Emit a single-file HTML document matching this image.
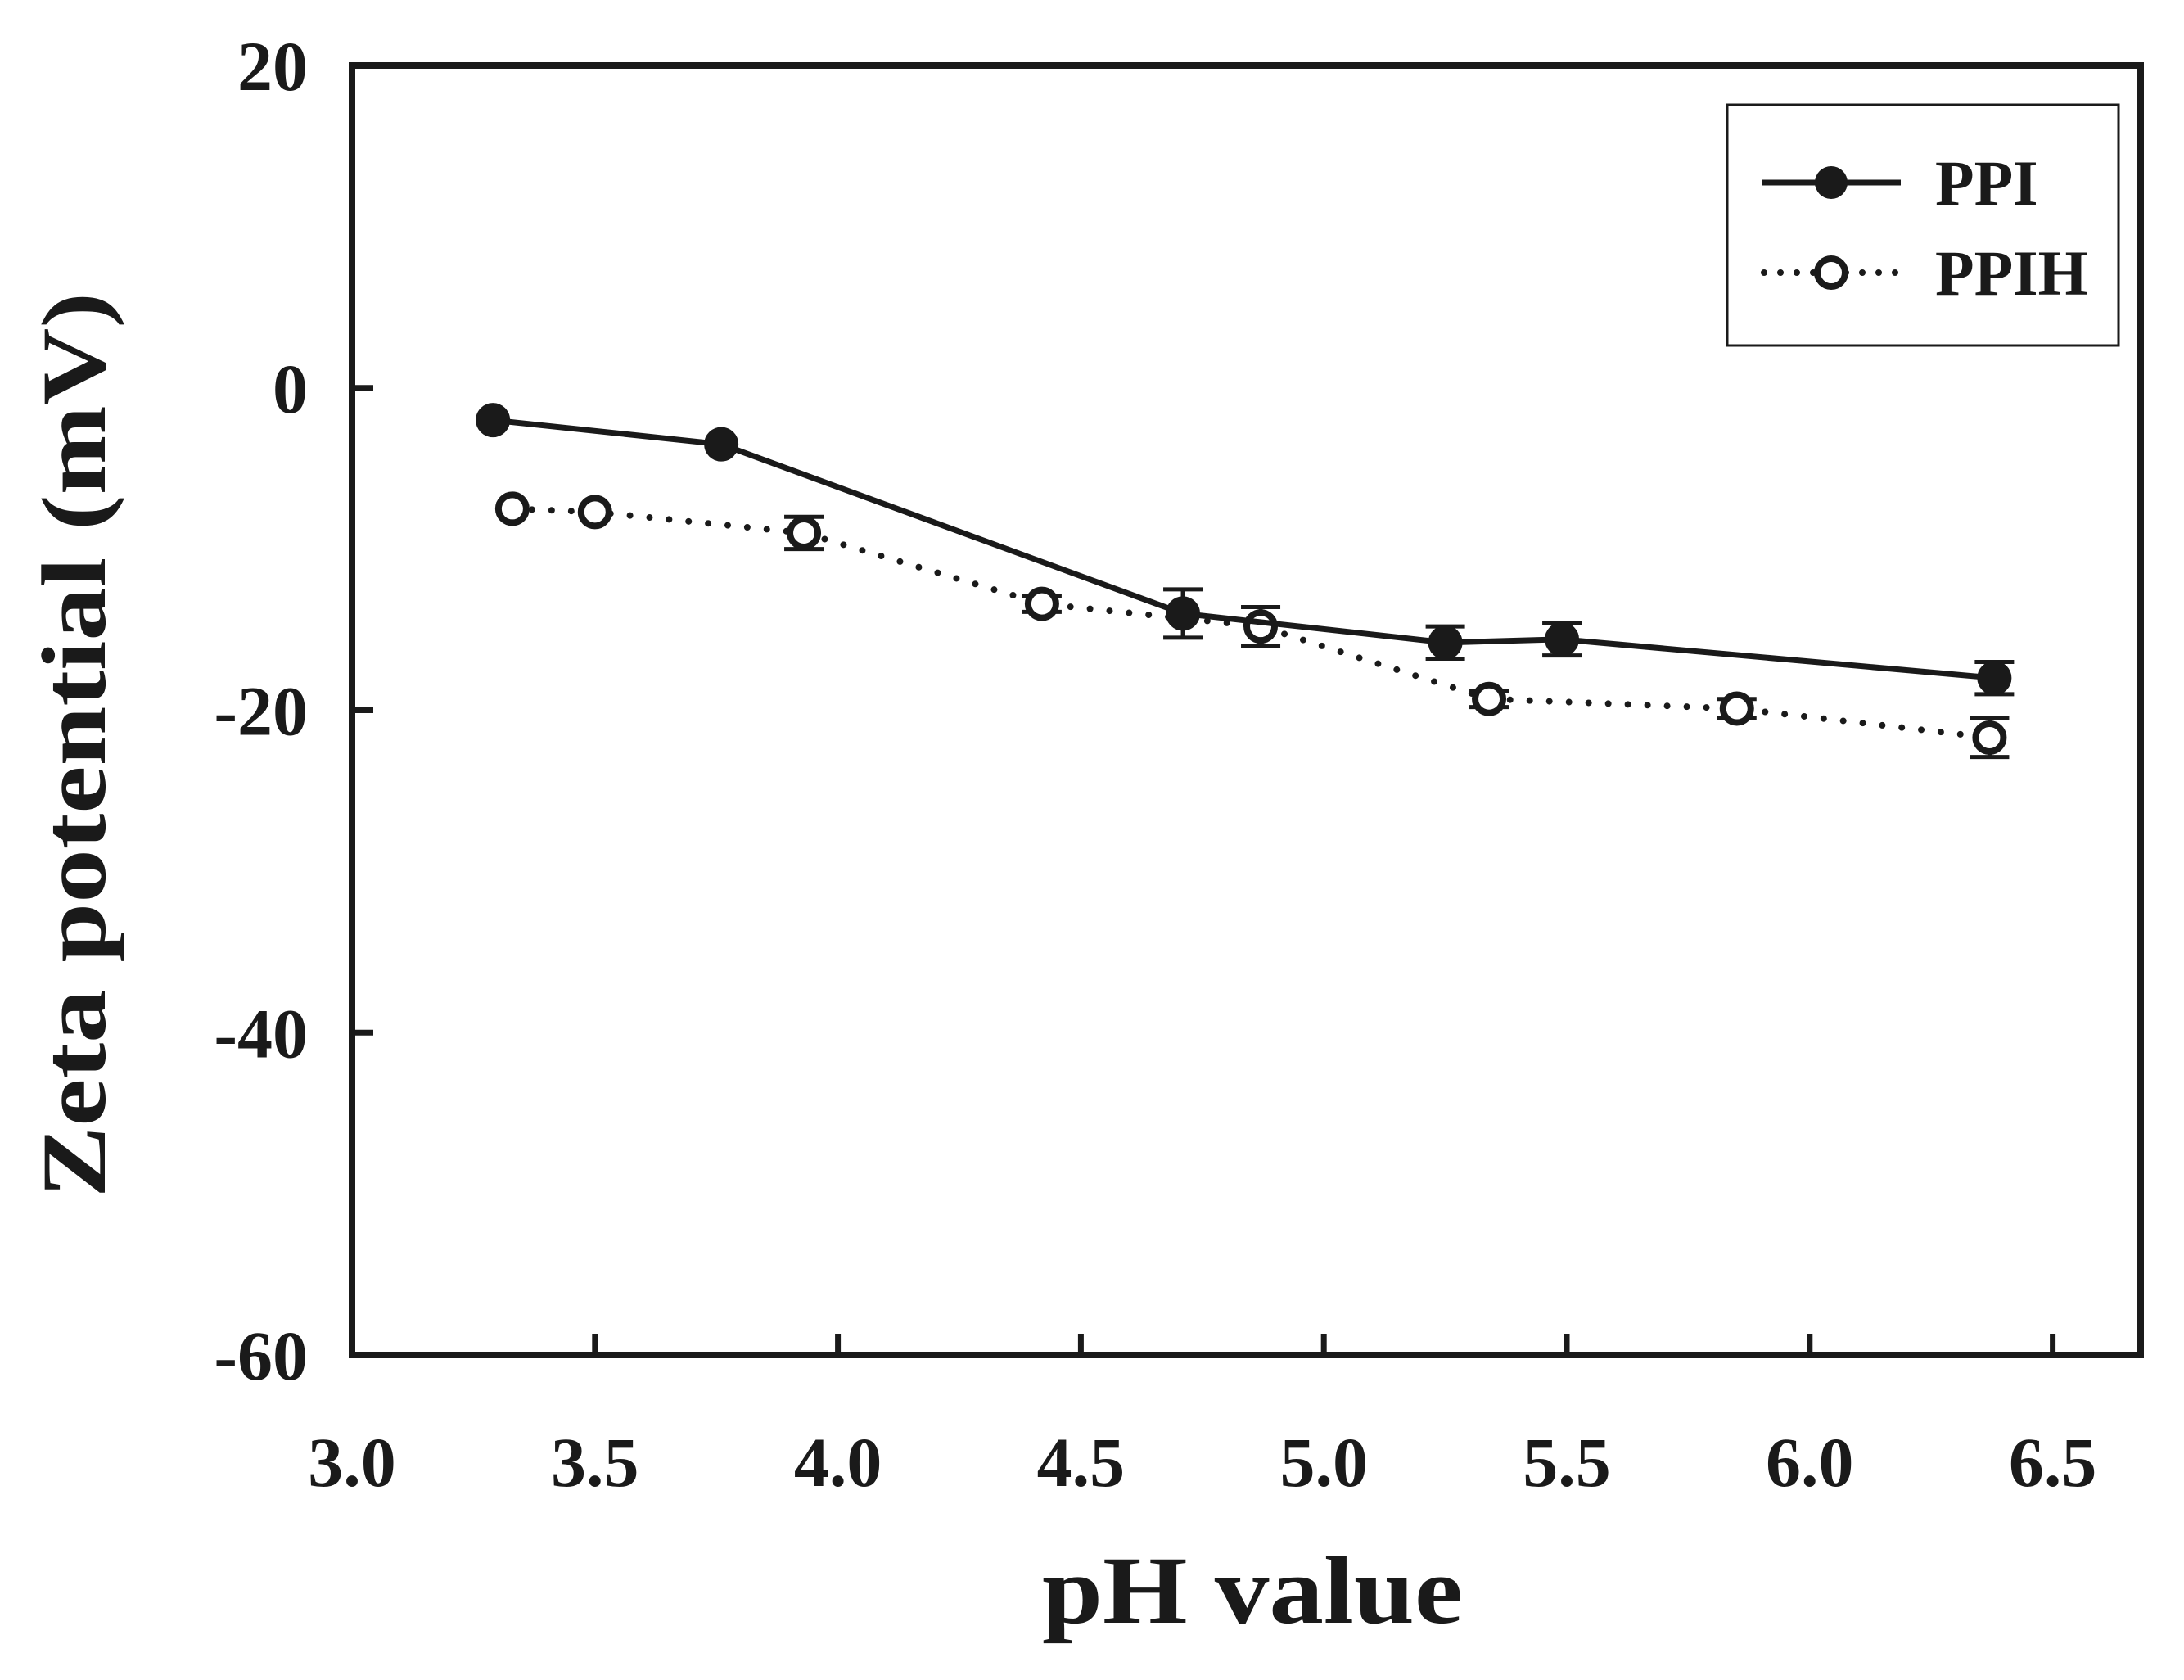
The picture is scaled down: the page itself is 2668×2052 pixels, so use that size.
<!DOCTYPE html>
<html><head><meta charset="utf-8"><style>
html,body{margin:0;padding:0;background:#fff;}
svg{display:block;}
text{font-family:"Liberation Serif",serif;font-weight:bold;fill:#1a1a1a;}
</style></head><body>
<svg id="chart" width="2668" height="2052" viewBox="0 0 2668 2052" xmlns="http://www.w3.org/2000/svg">
<rect x="0" y="0" width="2668" height="2052" fill="#fff"/>
<g id="plot"></g>
</svg>
<script>
const xTicks = [3.0, 3.5, 4.0, 4.5, 5.0, 5.5, 6.0, 6.5];
const xTickLabels = ["3.0","3.5","4.0","4.5","5.0","5.5","6.0","6.5"];
const yTicks = [20, 0, -20, -40, -60];
const yTickLabels = ["20","0","-20","-40","-60"];
const ppiX = [3.29, 3.76, 4.71, 5.25, 5.49, 6.38];
const ppiY = [-2.0, -3.5, -14.0, -15.8, -15.6, -18.0];
const ppiErr = [0, 0, 1.5, 1.0, 1.0, 1.0];
const ppihX = [3.33, 3.50, 3.93, 4.42, 4.87, 5.34, 5.85, 6.37];
const ppihY = [-7.5, -7.7, -9.0, -13.4, -14.8, -19.3, -19.9, -21.7];
const ppihErr = [0, 0, 1.0, 0.5, 1.2, 0.5, 0.6, 1.2];

const NS = "http://www.w3.org/2000/svg";
const L = 430, R = 2615, T = 80, B = 1655;
const sx = v => L + (v - 3.0) / 0.5 * 296.8;
const sy = v => T + (20 - v) / 80 * (B - T);
const g = document.getElementById('plot');
function mk(tag, attrs, parent) {
  const e = document.createElementNS(NS, tag);
  for (const k in attrs) e.setAttribute(k, attrs[k]);
  (parent || g).appendChild(e);
  return e;
}
let e = mk('rect', {x: L, y: T, width: R - L, height: B - T, fill: 'none', stroke: '#1a1a1a', 'stroke-width': 8});


xTicks.forEach((v, i) => {
  const t = mk('line', {x1: sx(v), x2: sx(v), y1: B, y2: B - 26, stroke: '#1a1a1a', 'stroke-width': 7});
  
  
  const lb = mk('text', {x: sx(v), y: 1815, 'text-anchor': 'middle', 'font-size': 86});
  lb.textContent = xTickLabels[i];
  
  
});
yTicks.forEach((v, i) => {
  const t = mk('line', {x1: L, x2: L + 26, y1: sy(v), y2: sy(v), stroke: '#1a1a1a', 'stroke-width': 7});
  
  
  const lb = mk('text', {x: 376, y: sy(v) + 30, 'text-anchor': 'end', 'font-size': 86});
  lb.textContent = yTickLabels[i];
  
  
});
e = mk('text', {x: 1530, y: 1982, 'text-anchor': 'middle', 'font-size': 118, textLength: 514, lengthAdjust: 'spacingAndGlyphs'});
e.textContent = 'pH value';


e = mk('text', {x: 0, y: 0, 'text-anchor': 'middle', 'font-size': 112, textLength: 1106, lengthAdjust: 'spacingAndGlyphs', transform: 'translate(128,910) rotate(-90)'});
e.textContent = 'Zeta potential (mV)';



function series(xs, ys, errs, filled, name) {
  const sg = mk('g', {});
  
  
  const pts = xs.map((x, i) => sx(x) + ',' + sy(ys[i])).join(' ');
  const line = mk('polyline', filled ? {points: pts, fill: 'none', stroke: '#1a1a1a', 'stroke-width': 7}
    : {points: pts, fill: 'none', stroke: '#1a1a1a', 'stroke-width': 8, 'stroke-dasharray': '0 24', 'stroke-linecap': 'round'}, sg);
  
  
  xs.forEach((x, i) => {
    const cx = sx(x);
    if (errs[i] > 0) {
      const y1 = sy(ys[i] + errs[i]), y2 = sy(ys[i] - errs[i]);
      const eb = mk('path', {d: `M${cx},${y1}V${y2}M${cx - 24},${y1}H${cx + 24}M${cx - 24},${y2}H${cx + 24}`, stroke: '#1a1a1a', 'stroke-width': 5, fill: 'none'}, sg);
      
      
    }
    const c = mk('circle', {cx: cx, cy: sy(ys[i]), r: filled ? 20 : 17, fill: filled ? '#1a1a1a' : '#fff', stroke: '#1a1a1a', 'stroke-width': filled ? 2 : 8}, sg);
    
    
  });
}
series(ppihX, ppihY, ppihErr, false, 'ppih');
series(ppiX, ppiY, ppiErr, true, 'ppi');

const lg = mk('g', {});


e = mk('rect', {x: 2110, y: 128, width: 478, height: 294, fill: '#fff', stroke: '#1a1a1a', 'stroke-width': 3}, lg);


e = mk('line', {x1: 2152, x2: 2322, y1: 223, y2: 223, stroke: '#1a1a1a', 'stroke-width': 7}, lg);


e = mk('circle', {cx: 2237, cy: 223, r: 20, fill: '#1a1a1a'}, lg);


e = mk('text', {x: 2364, y: 250, 'font-size': 78}, lg);
e.textContent = 'PPI';


e = mk('line', {x1: 2155, x2: 2322, y1: 333, y2: 333, stroke: '#1a1a1a', 'stroke-width': 8, 'stroke-dasharray': '0 20', 'stroke-linecap': 'round'}, lg);


e = mk('circle', {cx: 2237, cy: 333, r: 17, fill: '#fff', stroke: '#1a1a1a', 'stroke-width': 8}, lg);


e = mk('text', {x: 2364, y: 360, 'font-size': 78}, lg);
e.textContent = 'PPIH';


</script>
</body></html>
